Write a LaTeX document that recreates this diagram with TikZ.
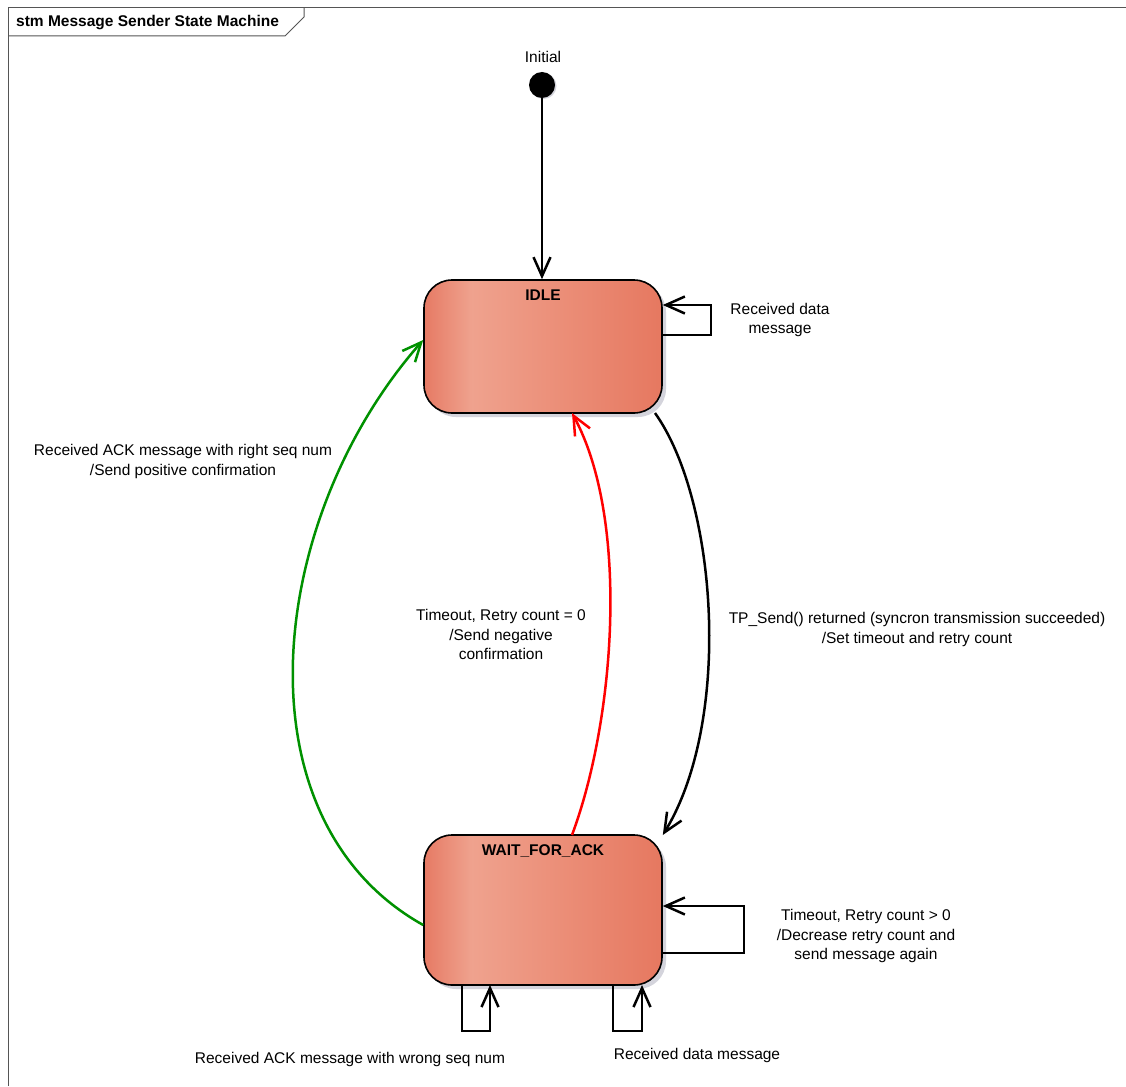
\documentclass[tikz,border=0pt]{standalone}
\usepackage{fontspec}
\setmainfont{Liberation Sans}
\usetikzlibrary{arrows.meta,shadows}

\definecolor{stLeft}{RGB}{230,122,100}
\definecolor{stLight}{RGB}{239,162,142}
\definecolor{stMid}{RGB}{236,146,124}
\definecolor{stRight}{RGB}{230,120,96}
\definecolor{shadowgray}{RGB}{212,212,220}
\definecolor{framegray}{RGB}{85,85,85}
\definecolor{okgreen}{RGB}{0,145,0}
\definecolor{failred}{RGB}{255,0,0}

% state body: darker edges, light band near the left
\pgfdeclarehorizontalshading{statefill}{100bp}{color(0bp)=(stLeft); color(25bp)=(stLeft); color(35bp)=(stLight); color(50bp)=(stMid); color(75bp)=(stRight); color(100bp)=(stRight)}

\newcommand{\diagfont}{\fontsize{15.5}{19.5}\selectfont}

\tikzset{
  tr/.style={line width=2.5pt, -{Straight Barb[length=19pt,width=17pt,line width=2.5pt]}},
  state/.style={rectangle, rounded corners=28pt, draw=black, line width=1.6pt,
    shading=statefill, minimum width=238pt, inner sep=0pt,
    drop shadow={shadow xshift=4pt, shadow yshift=-4pt, fill=shadowgray, opacity=1}},
  statename/.style={anchor=base, font=\diagfont\bfseries, inner sep=0pt, yshift=-21.5pt},
  note/.style={align=center, inner sep=0pt},
}

\begin{document}
\begin{tikzpicture}[x=1pt, y=-1pt, font=\diagfont]
  \useasboundingbox[fill=white] (0,0) rectangle (1126,1086);

  % diagram frame with its name tab
  \draw[framegray, line width=1pt] (8,1086) -- (8,8) -- (1126,8);
  \draw[framegray, line width=1pt] (8,36) -- (285,36) -- (304,17) -- (304,8);
  \node[anchor=west, font=\diagfont\bfseries, inner sep=0pt] (title) at (16,22.6) {stm Message Sender State Machine};

  % initial pseudo-state
  \node[circle, fill=black, minimum size=26pt, inner sep=0pt,
        drop shadow={shadow xshift=1.5pt, shadow yshift=-1pt, fill=shadowgray, opacity=1}] (init) at (542,85) {};
  \node[note] (initlbl) at (543,57) {Initial};

  % states
  \node[state, minimum height=133pt, label={[statename]north:IDLE}] (idle) at (543,346.5) {};
  \node[state, minimum height=150pt, label={[statename]north:WAIT\_FOR\_ACK}] (wait) at (543,910) {};

  % initial transition
  \draw[tr] (init) -- (idle.north -| init);

  % IDLE self transition
  \draw[tr] (idle.east |- 0,335) -- (711,335) -- (711,305) -- (idle.east |- 0,305);
  \node[note] (idleloop) at (780,320) {Received data\\message};

  % IDLE -> WAIT_FOR_ACK
  \draw[tr] (655,413) .. controls (717,500) and (733,720) .. (wait.north east |- 0,835);
  \node[note] (sendlbl) at (917,629.6) {TP\_Send() returned (syncron transmission succeeded)\\/Set timeout and retry count};

  % WAIT_FOR_ACK -> IDLE (failure)
  \draw[tr, failred] (572,835) .. controls (615,720) and (630,520) .. (572,413);
  \node[note] (faillbl) at (501,634.5) {Timeout, Retry count = 0\\/Send negative\\confirmation};

  % WAIT_FOR_ACK -> IDLE (success)
  \draw[tr, okgreen] (wait.west |- 0,925) .. controls (235,820) and (265,520) .. (idle.west |- 0,340);
  \node[note] (oklbl) at (183,461.6) {Received ACK message with right seq num\\/Send positive confirmation};

  % WAIT_FOR_ACK self transitions
  \draw[tr] (wait.east |- 0,953) -- (744,953) -- (744,906) -- (wait.east |- 0,906);
  \node[note] (retrylbl) at (866,936) {Timeout, Retry count > 0\\/Decrease retry count and\\send message again};

  \draw[tr] (462,985) -- (462,1031) -- (490,1031) -- (490,985);
  \node[note] (wronglbl) at (350,1059.6) {Received ACK message with wrong seq num};

  \draw[tr] (613,985) -- (613,1031) -- (642,1031) -- (642,985);
  \node[note] (datalbl) at (697,1055.6) {Received data message};
\end{tikzpicture}
\end{document}
